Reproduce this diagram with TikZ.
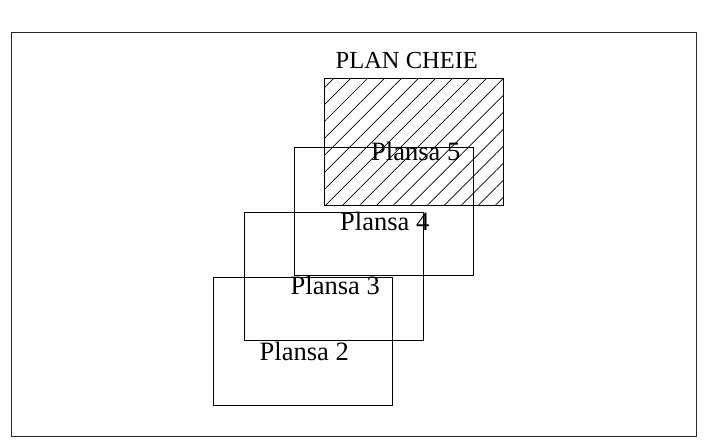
\documentclass[tikz,border=0pt]{standalone}
\usepackage{fontspec}
\setmainfont{Liberation Serif}
\usetikzlibrary{patterns.meta}
\tikzset{
  sheet/.style={draw=black, line width=0.8pt},
  frame/.style={draw=black!85, line width=1pt},
  lbl/.style={anchor=base west, inner sep=0pt, font=\fontsize{26.5}{30}\selectfont},
  ttl/.style={anchor=base west, inner sep=0pt, font=\fontsize{24.5}{28}\selectfont},
}
\begin{document}
\begin{tikzpicture}[x=1pt,y=-1pt]
\useasboundingbox (0,0) rectangle (722,446);
\draw[frame] (11,32.5) rectangle (696,436);
\draw[sheet, pattern={Lines[angle=45,distance=12pt,line width=0.7pt]}] (324.3,78.3) rectangle (503.3,205.7);
\draw[sheet] (294,147) rectangle (473.3,275);
\draw[sheet] (244,212.7) rectangle (423.3,340.3);
\draw[sheet] (213,277.7) rectangle (392.3,405);
\node[ttl] (plan) at (335.5,68.3) {PLAN CHEIE};
\node[lbl] (p5) at (371,161) {Plansa 5};
\node[lbl] (p4) at (340,230.7) {Plansa 4};
\node[lbl] (p3) at (290.5,294.3) {Plansa 3};
\node[lbl] (p2) at (259.5,360) {Plansa 2};
\end{tikzpicture}
\end{document}
